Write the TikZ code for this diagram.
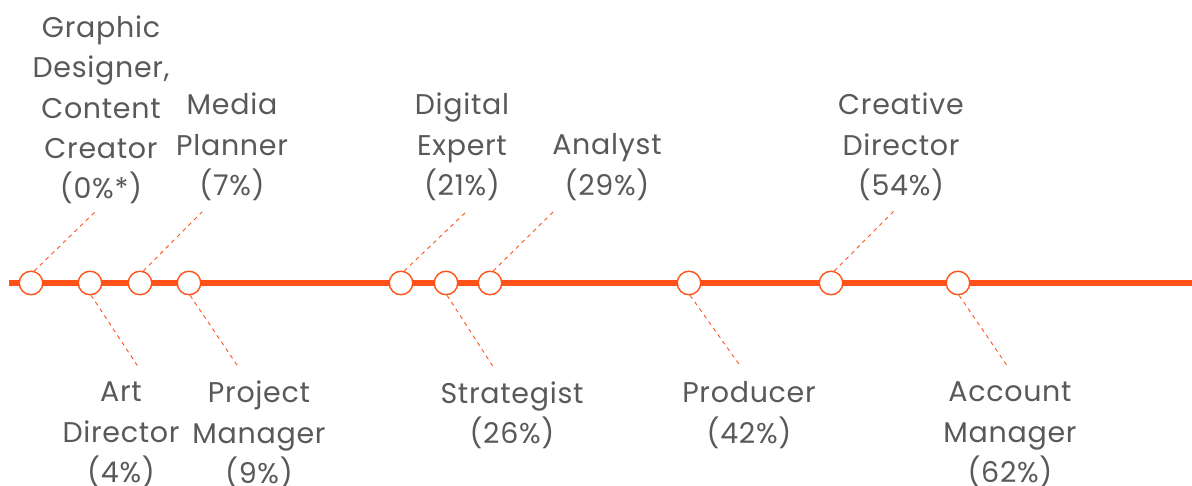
\documentclass[tikz,border=0pt]{standalone}
\usepackage{fontspec}
\setmainfont[LetterSpace=2.5]{Poppins}
\definecolor{rolered}{HTML}{FF5219}
\definecolor{rolegray}{HTML}{595959}
\tikzset{
	dot/.style={circle, draw=rolered, fill=white, line width=1.4pt,
		minimum size=23.5pt, inner sep=0pt},
	role/.style={align=center, font=\fontsize{28.5}{40.3}\selectfont,
		text=rolegray, inner sep=0pt},
	lead/.style={draw=rolered, line width=0.9pt, dash pattern=on 4pt off 4pt}
}

\begin{document}
\begin{tikzpicture}[x=1pt, y=-1pt]
	\useasboundingbox (0,0) rectangle (1192,486);
	% the time line
	\coordinate (start) at (9,283);
	\coordinate (end) at (1192,283);
	\draw[rolered, line width=5.5pt] (start) -- (end);
	% stops on the line
	\node[dot] (c1) at (31,283) {};
	\node[dot] (c2) at (90,283) {};
	\node[dot] (c3) at (140,283) {};
	\node[dot] (c4) at (189,283) {};
	\node[dot] (c5) at (401,283) {};
	\node[dot] (c6) at (446,283) {};
	\node[dot] (c7) at (490,283) {};
	\node[dot] (c8) at (689,283) {};
	\node[dot] (c9) at (831,283) {};
	\node[dot] (c10) at (958,283) {};
	% labels above
	\node[role] (graphic) at (101,110) {Graphic\\Designer,\\Content\\Creator\\(0\%*)};
	\node[role] (media) at (232,147) {Media\\Planner\\(7\%)};
	\node[role] (digital) at (462,147) {Digital\\Expert\\(21\%)};
	\node[role] (analyst) at (607,167) {Analyst\\(29\%)};
	\node[role] (creative) at (901,147) {Creative\\Director\\(54\%)};
	% labels below
	\node[role] (art) at (121,435) {Art\\Director\\(4\%)};
	\node[role] (project) at (259,435) {Project\\Manager\\(9\%)};
	\node[role] (strategist) at (512,415) {Strategist\\(26\%)};
	\node[role] (producer) at (749,415) {Producer\\(42\%)};
	\node[role] (account) at (1010,435) {Account\\Manager\\(62\%)};
	% ends of the leaders
	\coordinate (e1) at (96,211);
	\coordinate (e2) at (139,368);
	\coordinate (e3) at (202,212);
	\coordinate (e4) at (239,368);
	\coordinate (e5) at (466,212);
	\coordinate (e6) at (494,368);
	\coordinate (e7) at (554,211);
	\coordinate (e8) at (741,367);
	\coordinate (e9) at (894,211);
	\coordinate (e10) at (1008,367);
	\draw[lead] (c1.75) -- (e1);
	\draw[lead] (c2.-85) -- (e2);
	\draw[lead] (c3.75) -- (e3);
	\draw[lead] (c4.-85) -- (e4);
	\draw[lead] (c5.75) -- (e5);
	\draw[lead] (c6.-85) -- (e6);
	\draw[lead] (c7.75) -- (e7);
	\draw[lead] (c8.-85) -- (e8);
	\draw[lead] (c9.75) -- (e9);
	\draw[lead] (c10.-85) -- (e10);
\end{tikzpicture}
\end{document}
